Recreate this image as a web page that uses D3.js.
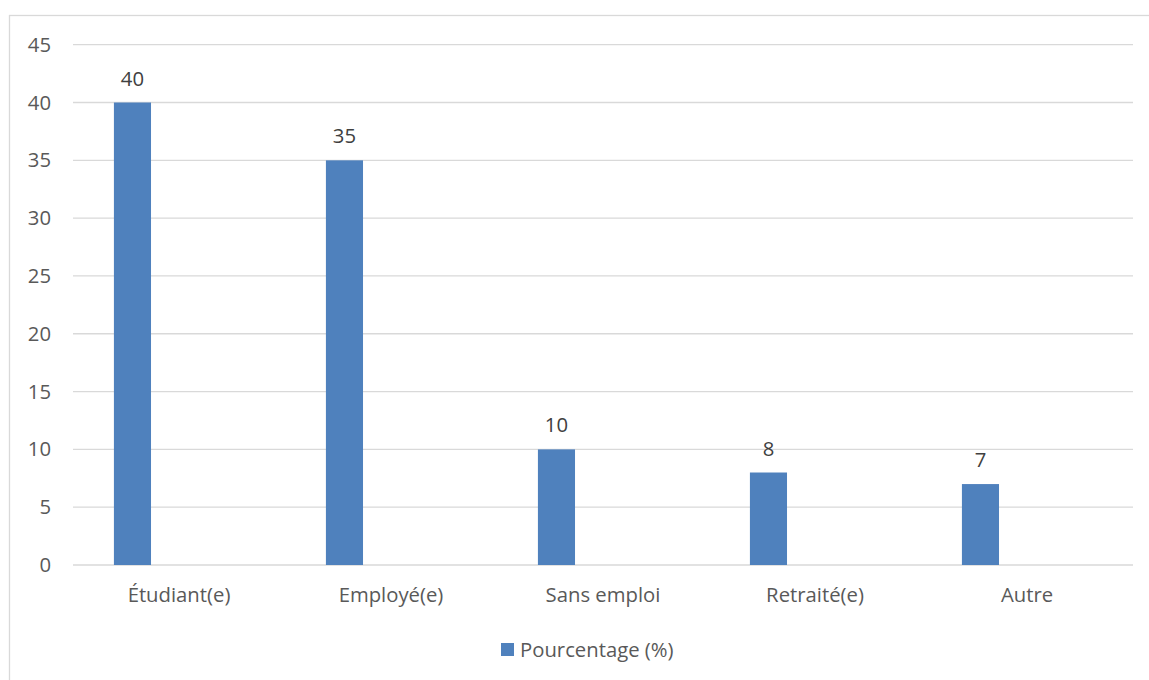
<!DOCTYPE html>
<html>
<head>
<meta charset="utf-8">
<script src="https://cdn.jsdelivr.net/npm/d3@7"></script>
<style>
  body { margin: 0; background: #fff; }
  text { font-family: "Open Sans", "Liberation Sans", sans-serif; }
</style>
</head>
<body>
<div id="main"></div>
<script>
const ctx = {
    w: 1149,
    h: 680,
    FONT: "20.3px"
};

// chart data
const categories = ["Étudiant(e)", "Employé(e)", "Sans emploi", "Retraité(e)", "Autre"];
const values = [40, 35, 10, 8, 7];
const yTicks = [0, 5, 10, 15, 20, 25, 30, 35, 40, 45];
const seriesName = "Pourcentage (%)";

function createViz() {
    const svg = d3.select("#main").append("svg")
        .attr("width", ctx.w)
        .attr("height", ctx.h);

    // outer chart border (right and bottom run off the picture)
    svg.append("rect")
        .attr("x", 9.5).attr("y", 15.5)
        .attr("width", 1160).attr("height", 700)
        .attr("fill", "none")
        .attr("stroke", "#d9d9d9")
        .attr("stroke-width", 1.3);

    const margin = { left: 73, right: 1133, top: 44.7, bottom: 565 };

    const x = d3.scaleBand()
        .domain(categories)
        .range([margin.left, margin.right]);

    const y = d3.scaleLinear()
        .domain([0, 45])
        .range([margin.bottom, margin.top]);

    // gridlines
    svg.append("g")
        .selectAll("line")
        .data(yTicks)
        .enter().append("line")
        .attr("x1", margin.left)
        .attr("x2", margin.right)
        .attr("y1", d => y(d))
        .attr("y2", d => y(d))
        .attr("stroke", "#d9d9d9")
        .attr("stroke-width", 1.3);

    // y axis labels
    const yAxis = d3.axisLeft(y).tickValues(yTicks).tickSize(0).tickPadding(0);
    const yg = svg.append("g")
        .attr("transform", "translate(51,0)")
        .call(yAxis);
    yg.select(".domain").remove();
    yg.selectAll("text")
        .attr("fill", "#595959")
        .style("font-size", ctx.FONT);

    // x axis labels
    const xAxis = d3.axisBottom(x).tickSize(0).tickPadding(0);
    const xg = svg.append("g")
        .attr("transform", `translate(0,${margin.bottom + 23})`)
        .call(xAxis);
    xg.select(".domain").remove();
    xg.selectAll("text")
        .attr("fill", "#595959")
        .style("font-size", ctx.FONT);

    // bars sit in the left part of each band
    const bw = x.bandwidth();
    const barOff = bw * 0.193;
    const barW = bw * 0.175;

    svg.append("g")
        .selectAll("rect")
        .data(values)
        .enter().append("rect")
        .attr("x", (d, i) => x(categories[i]) + barOff)
        .attr("y", d => y(d))
        .attr("width", barW)
        .attr("height", d => y(0) - y(d))
        .attr("fill", "#4f81bd");

    // data labels
    svg.append("g")
        .selectAll("text")
        .data(values)
        .enter().append("text")
        .attr("x", (d, i) => x(categories[i]) + barOff + barW / 2)
        .attr("y", d => y(d) - 17)
        .attr("text-anchor", "middle")
        .attr("fill", "#404040")
        .style("font-size", ctx.FONT)
        .text(d => d);

    // legend
    const lg = svg.append("g").attr("transform", "translate(501,643)");
    lg.append("rect")
        .attr("width", 13).attr("height", 13)
        .attr("fill", "#4f81bd");
    lg.append("text")
        .attr("x", 19).attr("y", 6.5)
        .attr("dy", "0.35em")
        .attr("fill", "#595959")
        .style("font-size", ctx.FONT)
        .text(seriesName);
}

createViz();
</script>
</body>
</html>
